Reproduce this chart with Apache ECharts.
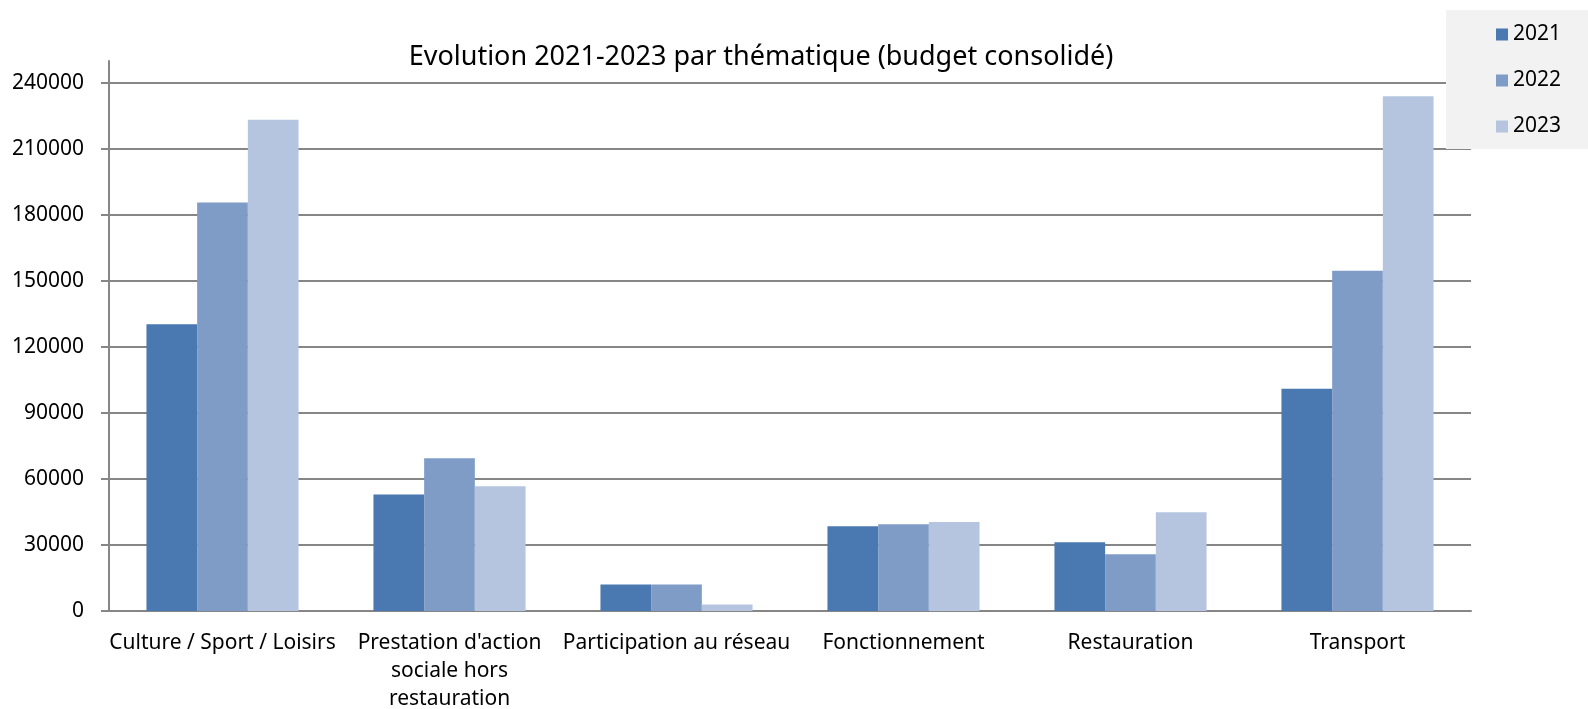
<!DOCTYPE html>
<html lang="fr">

<head>
    <meta charset="UTF-8">
    <title>Evolution 2021-2023 par thématique</title>
    <script src="https://cdn.jsdelivr.net/npm/echarts@6/dist/echarts.min.js"></script>
    <style>
        html, body {
            margin: 0;
            padding: 0;
            background: #fff;
        }
        #box {
            width: 1588px;
            height: 709px;
        }
    </style>
</head>

<body>
    <div id="box"></div>
    <script>
        // données
        const categories = ['Culture / Sport / Loisirs', "Prestation d'action\nsociale hors\nrestauration", 'Participation au réseau', 'Fonctionnement', 'Restauration', 'Transport']
        const years = ['2021', '2022', '2023']
        const values2021 = [130300, 53000, 12100, 38500, 31200, 101000]
        const values2022 = [185700, 69400, 12100, 39400, 25800, 154700]
        const values2023 = [223300, 56700, 3000, 40400, 44900, 234000]
        const colors = ['#4a78b0', '#7f9cc7', '#b5c4df']

        const font = '"Noto Sans", "Open Sans", sans-serif'
        const axisColor = '#868686'

        var myChart = echarts.init(document.getElementById('box'))
        var option = {
            animation: false,
            title: {
                text: 'Evolution 2021-2023 par thématique (budget consolidé)',
                left: 756,
                top: 39,
                textAlign: 'center',
                textStyle: {
                    fontFamily: font,
                    fontWeight: 'normal',
                    fontSize: 27,
                    color: '#000'
                }
            },
            legend: {
                data: years,
                orient: 'vertical',
                left: 1446,
                top: 10,
                backgroundColor: '#f2f2f2',
                padding: [14, 80, 12, 50],
                itemGap: 25,
                itemWidth: 12,
                itemHeight: 12,
                icon: 'rect',
                textStyle: {
                    fontFamily: font,
                    fontSize: 21,
                    lineHeight: 20,
                    color: '#000'
                }
            },
            grid: {
                left: 109,
                right: 117,
                top: 61,
                bottom: 98,
                containLabel: false,
                outerBoundsMode: 'none'
            },
            xAxis: {
                type: 'category',
                data: categories,
                axisLine: { lineStyle: { color: axisColor, width: 2 } },
                axisTick: { length: 7, lineStyle: { color: axisColor, width: 2 } },
                axisLabel: {
                    interval: 0,
                    margin: 18,
                    fontFamily: font,
                    fontSize: 21,
                    lineHeight: 28,
                    color: '#000'
                }
            },
            yAxis: {
                type: 'value',
                min: 0,
                max: 250000,
                interval: 30000,
                axisLine: { show: true, lineStyle: { color: axisColor, width: 2 } },
                axisTick: { show: true, length: 8, lineStyle: { color: axisColor, width: 2 } },
                axisLabel: {
                    showMaxLabel: false,
                    margin: 25,
                    fontFamily: font,
                    fontSize: 21,
                    color: '#000',
                    formatter: v => String(v)
                },
                splitLine: {
                    showMaxLine: false,
                    lineStyle: { color: axisColor, width: 2 }
                }
            },
            series: [{
                name: '2021',
                type: 'bar',
                data: values2021,
                itemStyle: { color: colors[0] },
                barGap: '0%',
                barCategoryGap: '33%'
            }, {
                name: '2022',
                type: 'bar',
                data: values2022,
                itemStyle: { color: colors[1] },
                barGap: '0%',
                barCategoryGap: '33%'
            }, {
                name: '2023',
                type: 'bar',
                data: values2023,
                itemStyle: { color: colors[2] },
                barGap: '0%',
                barCategoryGap: '33%'
            }]
        }
        myChart.setOption(option)
    </script>
</body>

</html>
